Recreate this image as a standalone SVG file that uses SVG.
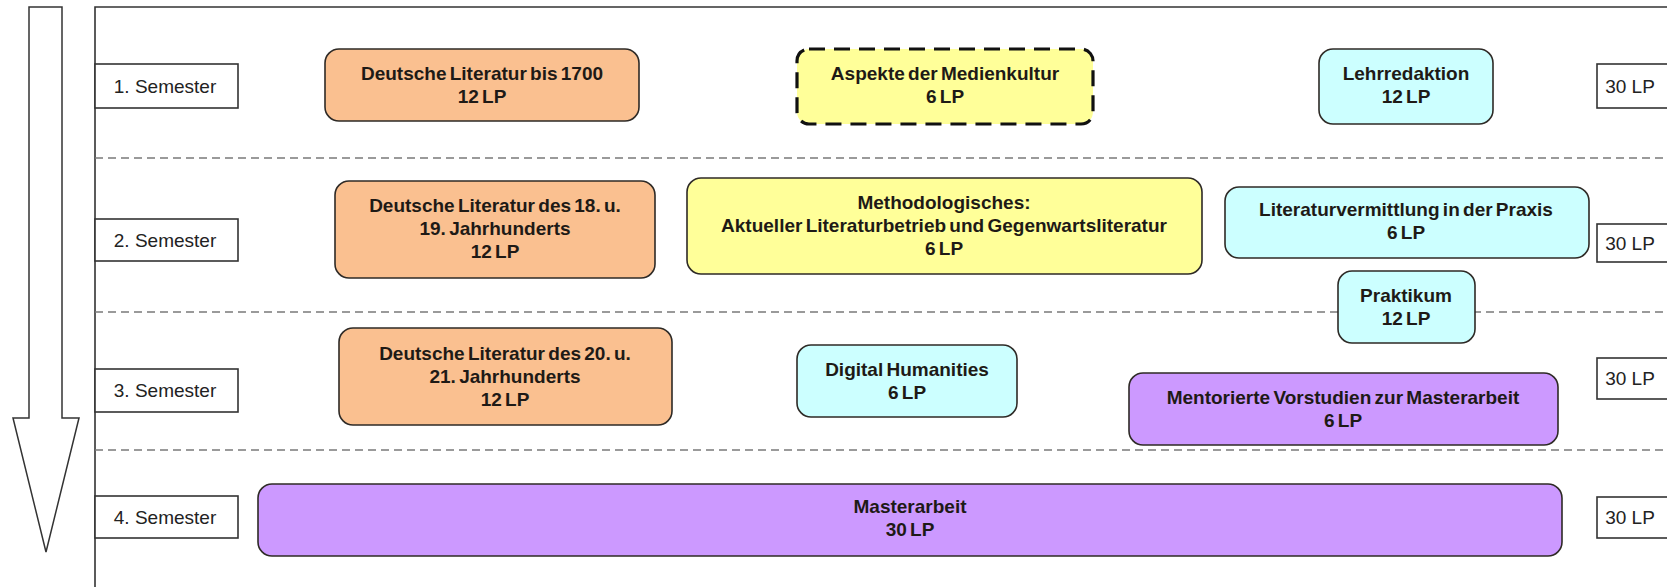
<svg xmlns="http://www.w3.org/2000/svg" width="1667" height="587" viewBox="0 0 1667 587">
<style>
.bg{fill:#ffffff}
.frame{fill:none;stroke:#333;stroke-width:1.6}
.sep{stroke:#7a7a7a;stroke-width:1.4;stroke-dasharray:8 5;fill:none}
.lbl{fill:#fff;stroke:#333;stroke-width:1.6}
.lt{font-family:"Liberation Sans",Arial,sans-serif;font-size:19px;fill:#222;text-anchor:middle}
.mt{font-family:"Liberation Sans",Arial,sans-serif;font-size:19px;font-weight:bold;fill:#1e1a16;text-anchor:middle;word-spacing:-2px}
.box{stroke:#2e2a26;stroke-width:1.6}
.peach{fill:#FAC090}
.yellow{fill:#FFFF99}
.cyan{fill:#CCFFFF}
.purple{fill:#CC99FF}
.dash{stroke:#111;stroke-width:3.2;stroke-dasharray:16 9}
</style>
<rect class="bg" x="0" y="0" width="1667" height="587"/>

<g id="arrow">
<polygon points="29,7 62,7 62,418 79,418 46,552 13,418 29,418" fill="#fff" stroke="#333" stroke-width="1.5"/>
</g>

<g id="frame">
<polyline class="frame" points="95,590 95,7 1670,7"/>
</g>

<g id="connectors">
<line class="sep" x1="95" y1="158" x2="1667" y2="158"/>
<line class="sep" x1="95" y1="312" x2="1667" y2="312"/>
<line class="sep" x1="95" y1="450" x2="1667" y2="450"/>
</g>

<g id="sem1"><rect class="lbl" x="95" y="64" width="143" height="44"/><text class="lt" x="165" y="93">1. Semester</text></g>
<g id="sem2"><rect class="lbl" x="95" y="219" width="143" height="42"/><text class="lt" x="165" y="247">2. Semester</text></g>
<g id="sem3"><rect class="lbl" x="95" y="369" width="143" height="43"/><text class="lt" x="165" y="397">3. Semester</text></g>
<g id="sem4"><rect class="lbl" x="95" y="496" width="143" height="42"/><text class="lt" x="165" y="524">4. Semester</text></g>

<g id="lp1"><rect class="lbl" x="1597" y="64" width="120" height="44"/><text class="lt" x="1630" y="93">30 LP</text></g>
<g id="lp2"><rect class="lbl" x="1597" y="224" width="120" height="38"/><text class="lt" x="1630" y="250">30 LP</text></g>
<g id="lp3"><rect class="lbl" x="1597" y="358" width="120" height="41"/><text class="lt" x="1630" y="385">30 LP</text></g>
<g id="lp4"><rect class="lbl" x="1597" y="497" width="120" height="41"/><text class="lt" x="1630" y="524">30 LP</text></g>

<g id="dl1700"><rect class="box peach" x="325" y="49" width="314" height="72" rx="14"/>
<text class="mt" x="482" y="80">Deutsche Literatur bis 1700</text><text class="mt" x="482" y="103">12 LP</text></g>

<g id="aspekte"><rect class="yellow dash" x="797" y="49" width="296" height="75" rx="12"/>
<text class="mt" x="945" y="80">Aspekte der Medienkultur</text><text class="mt" x="945" y="103">6 LP</text></g>

<g id="lehrredaktion"><rect class="box cyan" x="1319" y="49" width="174" height="75" rx="14"/>
<text class="mt" x="1406" y="80">Lehrredaktion</text><text class="mt" x="1406" y="103">12 LP</text></g>

<g id="dl1819"><rect class="box peach" x="335" y="181" width="320" height="97" rx="14"/>
<text class="mt" x="495" y="212">Deutsche Literatur des 18. u.</text><text class="mt" x="495" y="235">19. Jahrhunderts</text><text class="mt" x="495" y="258">12 LP</text></g>

<g id="methodologisches"><rect class="box yellow" x="687" y="178" width="515" height="96" rx="14"/>
<text class="mt" x="944" y="209">Methodologisches:</text><text class="mt" x="944" y="232">Aktueller Literaturbetrieb und Gegenwartsliteratur</text><text class="mt" x="944" y="255">6 LP</text></g>

<g id="literaturvermittlung"><rect class="box cyan" x="1225" y="187" width="364" height="71" rx="14"/>
<text class="mt" x="1406" y="216">Literaturvermittlung in der Praxis</text><text class="mt" x="1406" y="239">6 LP</text></g>

<g id="praktikum"><rect class="box cyan" x="1338" y="271" width="137" height="72" rx="14"/>
<text class="mt" x="1406" y="302">Praktikum</text><text class="mt" x="1406" y="325">12 LP</text></g>

<g id="dl2021"><rect class="box peach" x="339" y="328" width="333" height="97" rx="14"/>
<text class="mt" x="505" y="360">Deutsche Literatur des 20. u.</text><text class="mt" x="505" y="383">21. Jahrhunderts</text><text class="mt" x="505" y="406">12 LP</text></g>

<g id="digital"><rect class="box cyan" x="797" y="345" width="220" height="72" rx="14"/>
<text class="mt" x="907" y="376">Digital Humanities</text><text class="mt" x="907" y="399">6 LP</text></g>

<g id="mentorierte"><rect class="box purple" x="1129" y="373" width="429" height="72" rx="14"/>
<text class="mt" x="1343" y="404">Mentorierte Vorstudien zur Masterarbeit</text><text class="mt" x="1343" y="427">6 LP</text></g>

<g id="masterarbeit"><rect class="box purple" x="258" y="484" width="1304" height="72" rx="14"/>
<text class="mt" x="910" y="513">Masterarbeit</text><text class="mt" x="910" y="536">30 LP</text></g>
</svg>
